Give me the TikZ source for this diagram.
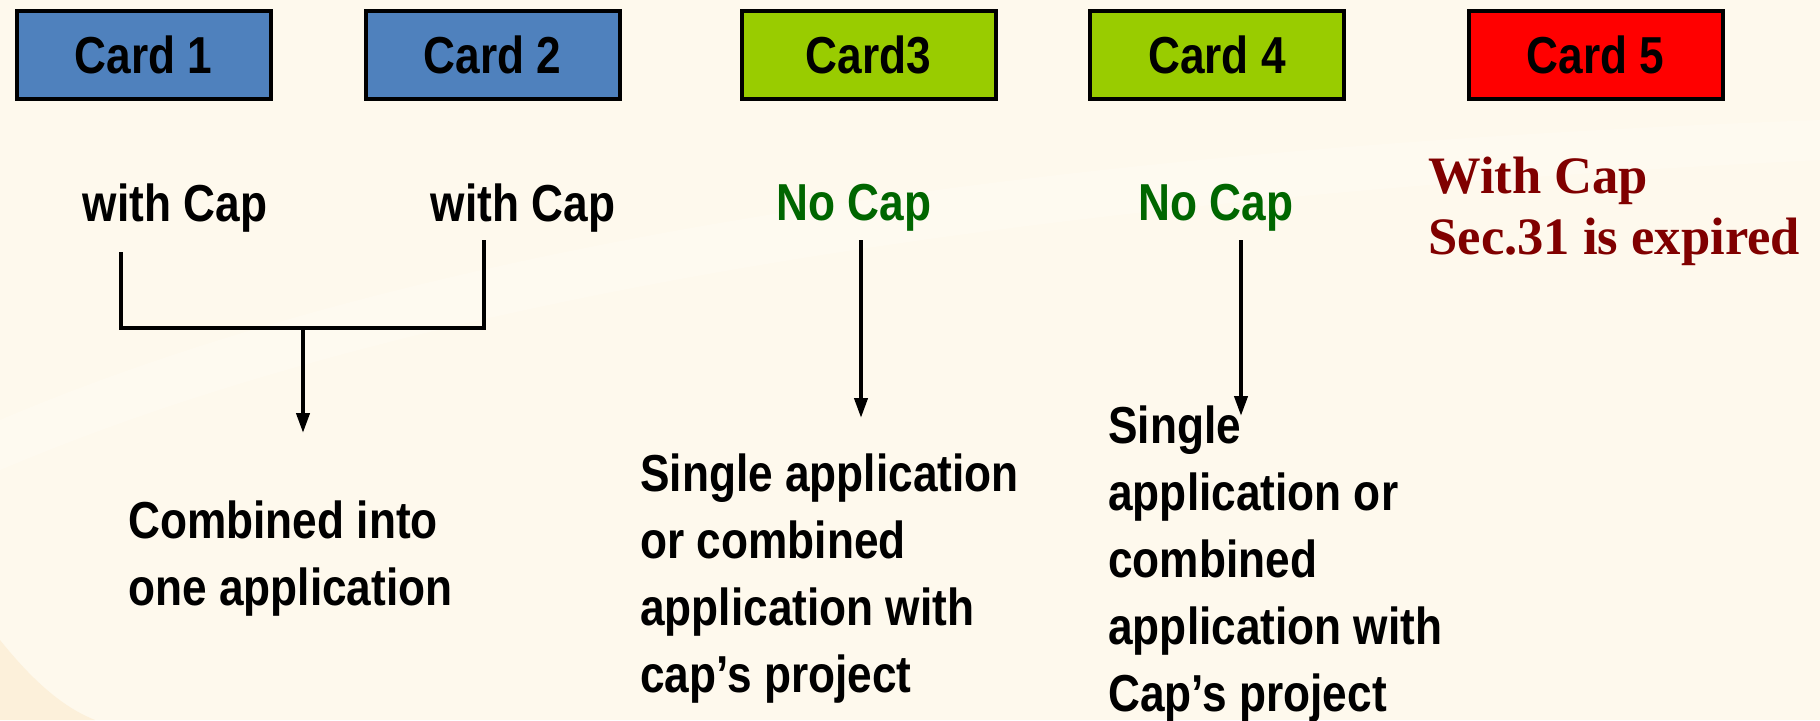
\documentclass[tikz,border=0pt]{standalone}
\usepackage{fontspec}
\setmainfont{Liberation Serif}
\newfontfamily\condsans[FakeStretch=0.85]{Liberation Sans}
\usetikzlibrary{arrows.meta}
\definecolor{bgcream}{RGB}{254,249,237}
\definecolor{bgpeach}{RGB}{252,240,218}
\definecolor{cardblue}{RGB}{79,129,189}
\definecolor{cardgreen}{RGB}{153,204,0}
\definecolor{cardred}{RGB}{255,0,0}
\definecolor{capgreen}{RGB}{0,102,0}
\definecolor{darkred}{RGB}{128,0,0}
\tikzset{
  cardbox/.style={draw=black, line width=2pt, minimum width=127pt, minimum height=44pt, inner sep=0pt,
    font=\condsans\bfseries\fontsize{26}{30}\selectfont},
  lbl/.style={inner sep=0pt, font=\condsans\bfseries\fontsize{26}{30}\selectfont},
  body/.style={inner sep=0pt, align=left, font=\condsans\bfseries\fontsize{26}{33.5}\selectfont},
  redtxt/.style={inner sep=0pt, align=left, text=darkred, font=\bfseries\fontsize{26.3}{30.5}\selectfont},
  conn/.style={line width=2pt, line join=miter},
  arr/.style={conn, -{Triangle[length=10pt,width=6.5pt]}}
}
\begin{document}
\begin{tikzpicture}[x=0.5pt,y=-0.5pt]
\useasboundingbox (0,0) rectangle (1820,720);
\fill[bgcream] (0,0) rectangle (1820,720);
\fill[bgpeach] (0,640) .. controls (40,690) and (70,710) .. (95,720) -- (0,720) -- cycle;
\fill[white,opacity=0.22] (0,420) .. controls (400,250) and (1000,150) .. (1820,120) -- (1820,160) .. controls (1000,200) and (400,300) .. (0,470) -- cycle;

\node[cardbox, fill=cardblue] (c1) at (143.5,55) {Card 1};
\node[cardbox, fill=cardblue] (c2) at (492.5,55) {Card 2};
\node[cardbox, fill=cardgreen] (c3) at (868.5,55) {Card3};
\node[cardbox, fill=cardgreen] (c4) at (1217,55) {Card 4};
\node[cardbox, fill=cardred] (c5) at (1595.5,55) {Card 5};

\node[lbl] (w1) at (175,208) {with Cap};
\node[lbl] (w2) at (523,208) {with Cap};
\node[lbl, text=capgreen] (n3) at (854,208) {No Cap};
\node[lbl, text=capgreen] (n4) at (1216,208) {No Cap};
\node[redtxt, anchor=west] (r5) at (1428,211) {With Cap\\Sec.31 is expired};

\node[body, anchor=west] (b1) at (128,559) {Combined into\\one application};
\node[body, anchor=west] (b3) at (640,579) {Single application\\or combined\\application with\\cap’s project};
\node[body, anchor=west] (b4) at (1108,564) {Single\\application or\\combined\\application with\\Cap’s project};

\coordinate (s1) at (121,252);
\coordinate (s2) at (484,240);
\coordinate (m1) at (303,328);
\coordinate (t1) at (303,433);
\coordinate (s3) at (861,240);
\coordinate (t3) at (861,418);
\coordinate (s4) at (1241,240);
\coordinate (t4) at (1241,416);

\draw[conn] (s1) |- (m1) -| (s2);
\draw[arr] (m1) -- (t1);
\draw[arr] (s3) -- (t3);
\draw[arr] (s4) -- (t4);
\end{tikzpicture}
\end{document}
